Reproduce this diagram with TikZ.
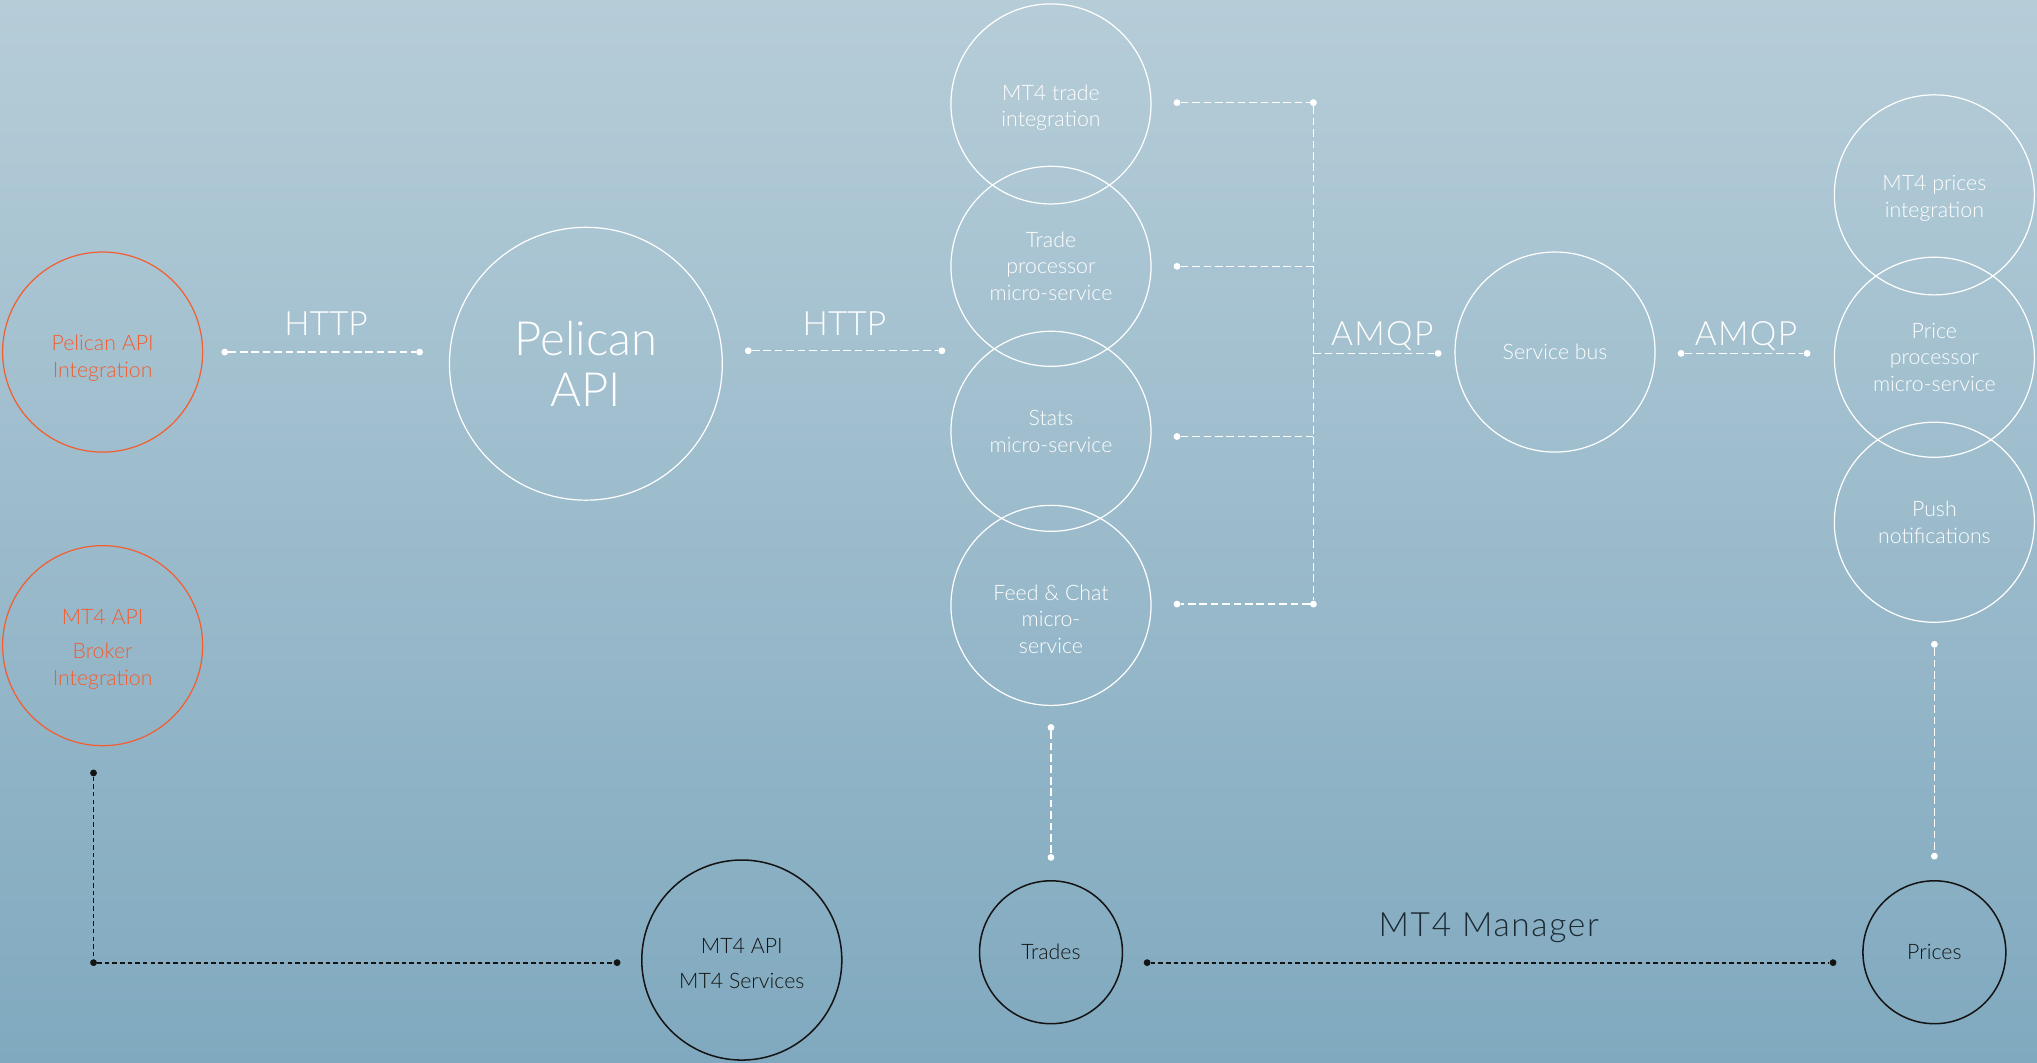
\documentclass[tikz,border=0pt]{standalone}
\usepackage{fontspec}
\IfFontExistsTF{Lato Light}{\setmainfont{Lato Light}}{\setmainfont{TeX Gyre Heros}}
\usetikzlibrary{positioning}

\definecolor{bgtop}{HTML}{B6CDD8}
\definecolor{bgbot}{HTML}{80A9BF}
\definecolor{pelorange}{HTML}{F25E30}
\definecolor{darkline}{HTML}{141414}
\definecolor{mgrtext}{HTML}{1C2A33}
\newcommand{\tgap}[1]{\rule{0pt}{#1}}

\begin{document}
\begin{tikzpicture}[x=0.03cm,y=-0.03cm,
	svc/.style={circle,draw=white,line width=0.8pt,text=white,minimum size=4.62cm,inner sep=0pt,align=center,font=\fontsize{14}{17.5}\selectfont},
	ext/.style={svc,draw=pelorange,text=pelorange},
	mt/.style={svc,draw=darkline,text=darkline,line width=1pt},
	smallmt/.style={mt,minimum size=3.3cm},
	wdot/.style={circle,fill=white,inner sep=0pt,minimum size=4.5pt},
	bdot/.style={wdot,fill=darkline},
	wlink/.style={white,line width=0.8pt,dash pattern=on 5pt off 2.5pt},
	blink/.style={darkline,line width=1.2pt,dash pattern=on 3pt off 2pt},
	proto/.style={white,anchor=base,font=\fontsize{22}{26}\selectfont}]
	\useasboundingbox (0,0) rectangle (1568,818);
	\shade[top color=bgtop,bottom color=bgbot] (0,0) rectangle (1568,818);	% фон
	% внешние системы
	\node[ext] (pelint) at (79,271) {\tgap{18pt}Pelican API\\Integration};
	\node[ext] (brokint) at (79,497) {\tgap{15pt}MT4 API\\[5pt]Broker\\Integration};
	\node[svc,minimum size=6.3cm,font=\fontsize{31}{34}\selectfont] (pelapi) at (451,280) {Pelican\\API};
	% микросервисы
	\node[svc] (mt4trade) at (809,80) {\tgap{15pt}MT4 trade\\integration};
	\node[svc] (tradeproc) at (809,205) {Trade\\processor\\micro-service};
	\node[svc] (stats) at (809,332) {Stats\\micro-service};
	\node[svc] (feed) at (809,466) {\mbox{}\\[11pt]Feed \& Chat\\micro-\\service};
	\node[svc] (servicebus) at (1197,271) {Service bus};
	\node[svc] (mt4prices) at (1489,150) {\tgap{15pt}MT4 prices\\integration};
	\node[svc] (priceproc) at (1489,275) {Price\\processor\\micro-service};
	\node[svc] (push) at (1489,402) {Push\\notifications};
	% MT4
	\node[mt] (mt4serv) at (571,739) {\tgap{15pt}MT4 API\\[5.5pt]MT4 Services};
	\node[smallmt] (trades) at (809,733) {Trades};
	\node[smallmt] (prices) at (1489,733) {Prices};
	% точки
	\foreach \n/\x/\y in {h1a/173/271,h1b/323/271,h2a/576/270,h2b/725/270,
		btop/1011/79,bbot/1011/465,amqpa/1107/272,amqpb/1294/272,amqpc/1391/272,
		v1a/809/560,v1b/809/660,v2a/1489/496,v2b/1489/659}
		\node[wdot] (\n) at (\x,\y) {};
	\foreach \i/\y in {1/79,2/205,3/336,4/465}
		\node[wdot] (b\i) at (906,\y) {};
	\foreach \n/\x/\y in {k1/72/595,k2/72/741,k3/475/741,m1/883/741,m2/1411/741}
		\node[bdot] (\n) at (\x,\y) {};
	\coordinate (bmid) at (1011,272);
	% связи
	\draw[wlink] (h1a) -- (h1b);
	\draw[wlink] (h2a) -- (h2b);
	\draw[wlink] (b1) -- (btop) -- (bbot) -- (b4);
	\draw[wlink] (b2) -- (b2 -| btop);
	\draw[wlink] (b3) -- (b3 -| btop);
	\draw[wlink] (bmid) -- (amqpa);
	\draw[wlink] (amqpb) -- (amqpc);
	\draw[wlink] (v1a) -- (v1b);
	\draw[wlink] (v2a) -- (v2b);
	\draw[blink] (k1) -- (k2) -- (k3);
	\draw[blink] (m1) -- (m2);
	% подписи
	\node[proto] (http1) at (251,258) {HTTP};
	\node[proto] (http2) at (650,258) {HTTP};
	\node[proto] (amqp1) at (1064,266) {\addfontfeature{LetterSpace=4}AMQP};
	\node[proto] (amqp2) at (1344,266) {\addfontfeature{LetterSpace=4}AMQP};
	\node[proto,text=mgrtext] (mgr) at (1146,721) {\addfontfeature{LetterSpace=5}MT4 Manager};
\end{tikzpicture}
\end{document}
